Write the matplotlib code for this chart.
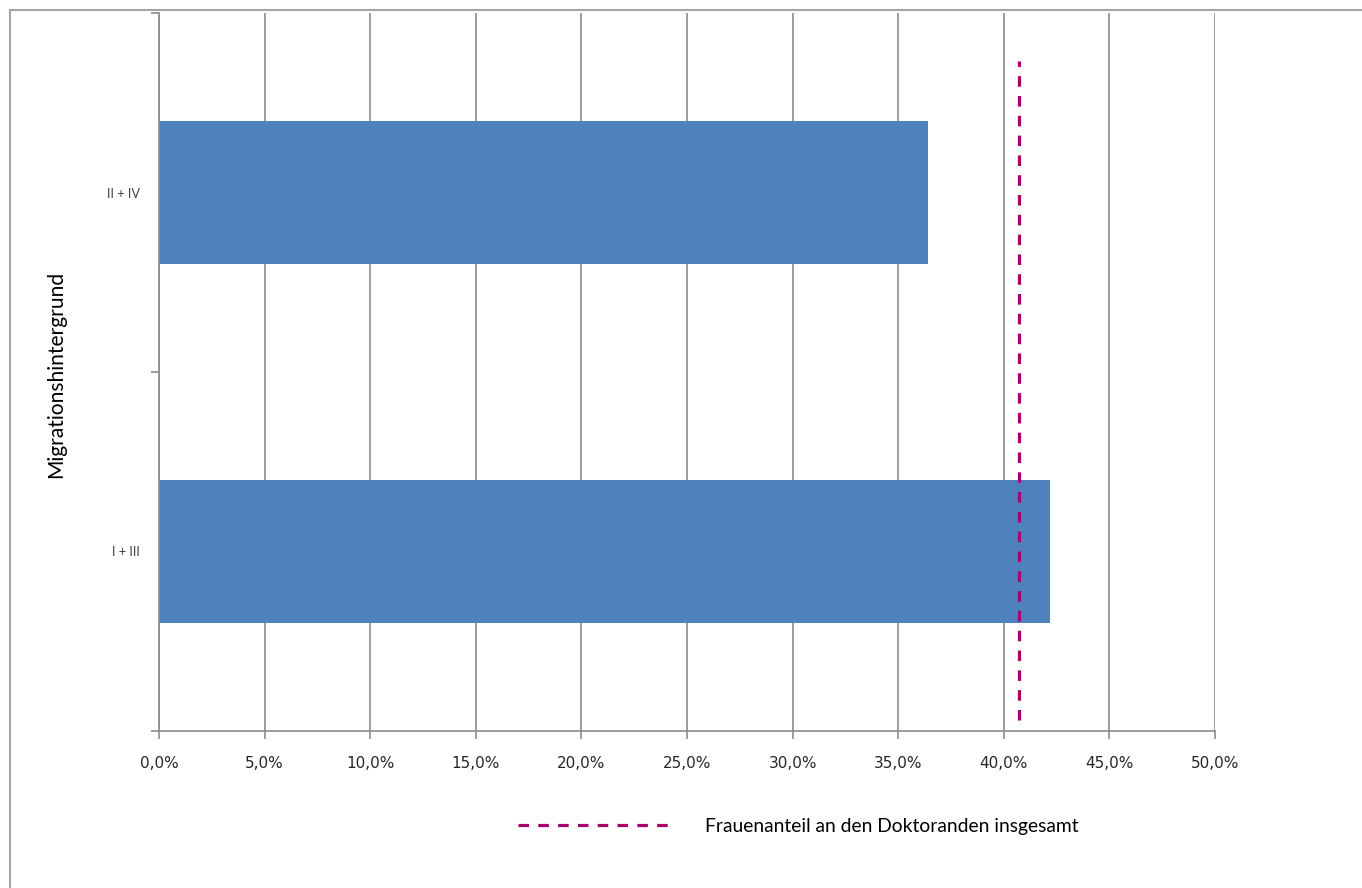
import matplotlib.pyplot as plt
from matplotlib.lines import Line2D
from matplotlib.ticker import FuncFormatter, MultipleLocator

# ----------------------------
# data
# ----------------------------
categories = ["I + III", "II + IV"]
share_women = [42.2, 36.4]          # percent
overall_share = 40.7                # Frauenanteil an den Doktoranden insgesamt
overall_y = [-0.47, 1.365]          # vertical extent of the reference line (category units)
legend_label = "Frauenanteil an den Doktoranden insgesamt"

# ----------------------------
# styles
# ----------------------------
bar_color = "#4F81BD"
line_color = "#A8006A"
grid_color = "#8C8C8C"

fig = plt.figure(figsize=(13.62, 8.88), dpi=100)
ax = fig.add_axes([159 / 1362, 1 - 731 / 888, (1215 - 159) / 1362, (731 - 13) / 888])

# outer chart border (only top and left visible)
fig.add_artist(Line2D([10 / 1362, 1.01], [1 - 10 / 888, 1 - 10 / 888], color="#A6A6A6", lw=1.5))
fig.add_artist(Line2D([10 / 1362, 10 / 1362], [-0.01, 1 - 10 / 888], color="#A6A6A6", lw=1.5))

ypos = list(range(len(categories)))
ax.barh(ypos, share_women, height=0.4, color=bar_color, zorder=2)

ax.plot([overall_share, overall_share], overall_y, color=line_color, lw=2.3,
        dashes=(3.3, 2.9), label=legend_label, zorder=3)

ax.set_xlim(0, 50)
ax.set_ylim(-0.5, 1.5)
ax.xaxis.set_major_locator(MultipleLocator(5))
ax.xaxis.set_major_formatter(FuncFormatter(lambda v, p: f"{v:.1f}%".replace(".", ",")))
ax.grid(axis="x", color=grid_color, lw=1.2, zorder=0)

ax.set_yticks([-0.5, 0.5, 1.5])
ax.set_yticklabels([])
ax.set_yticks(ypos, minor=True)
ax.set_yticklabels(categories, minor=True, fontsize=9.2, color="#404040", family="Lato")
ax.tick_params(axis="y", which="minor", length=0, pad=13.5)
ax.tick_params(axis="y", which="major", length=6, color=grid_color, width=1.2)
ax.tick_params(axis="x", length=6, color=grid_color, width=1.2, pad=12,
               labelsize=11, labelcolor="#262626", direction="out")

for side in ["top", "right"]:
    ax.spines[side].set_visible(False)
for side in ["left", "bottom"]:
    ax.spines[side].set_color(grid_color)
    ax.spines[side].set_linewidth(1.2)

ax.set_ylabel("Migrationshintergrund", fontsize=15.1, family="Lato", color="black")
ax.yaxis.set_label_coords(-0.088, 0.496)

fig.legend(loc="center left", bbox_to_anchor=(518 / 1362, 1 - 826 / 888), frameon=False,
           handlelength=8.2, handletextpad=1.5, borderpad=0, borderaxespad=0,
           prop={"family": "Lato", "size": 13.9})

fig.savefig("out.png", dpi=100)
